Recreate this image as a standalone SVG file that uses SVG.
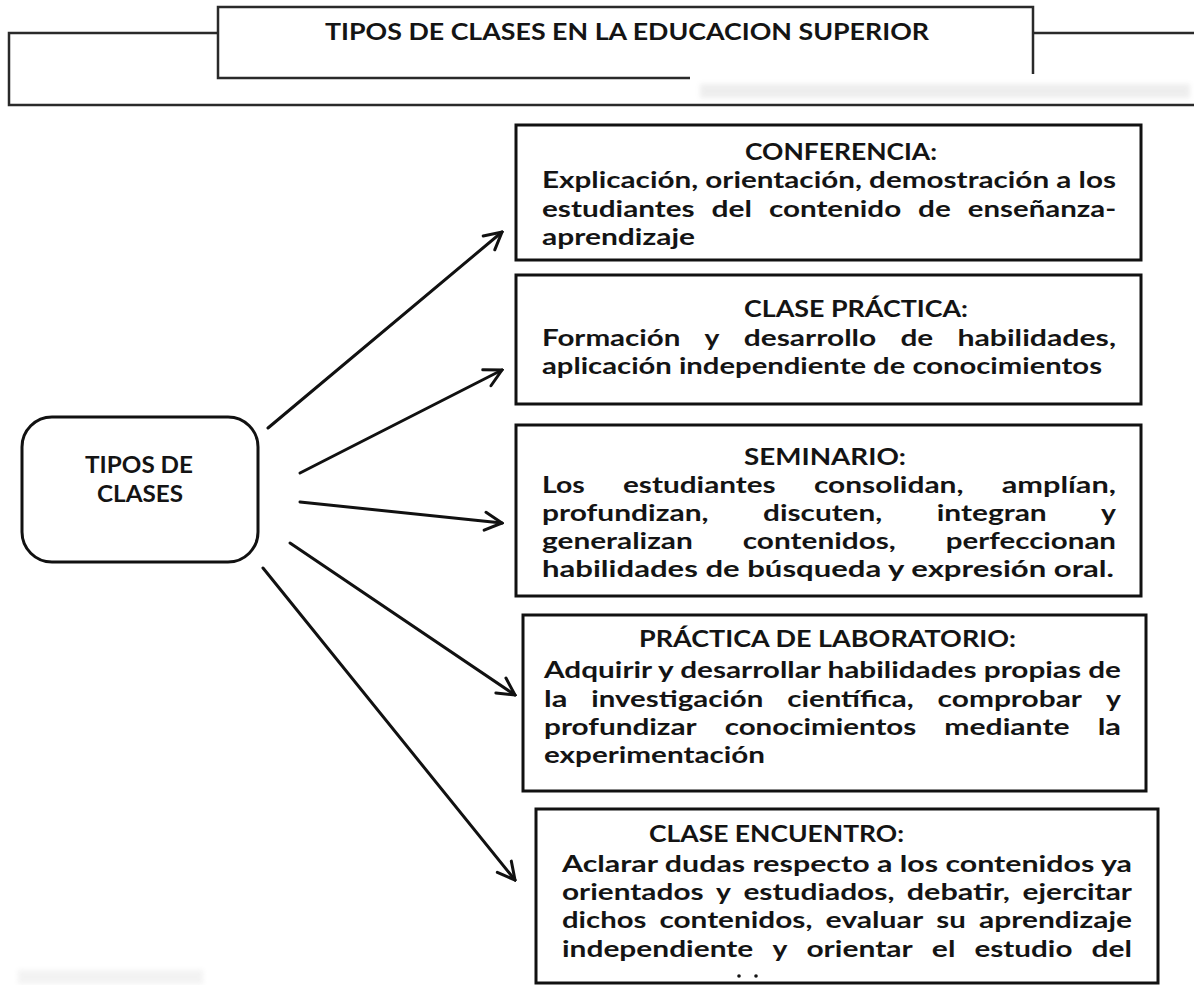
<svg xmlns="http://www.w3.org/2000/svg" width="1194" height="985" viewBox="0 0 1194 985">
<style>
.frame{fill:none;stroke:#2a2a2a;stroke-width:2.5}
.box{fill:#fff;stroke:#111;stroke-width:3}
.conn{fill:none;stroke:#111;stroke-width:3;stroke-linecap:round}
.t{font-family:Lato,'Open Sans','Liberation Sans',sans-serif;font-weight:700;font-size:22.5px;fill:#141414}
.h{font-family:Lato,'Open Sans','Liberation Sans',sans-serif;font-weight:700;font-size:23px;fill:#141414}
.big{font-family:Lato,'Open Sans','Liberation Sans',sans-serif;font-weight:700;font-size:23.5px;fill:#141414}
</style>
<defs>
<marker id="arr" markerUnits="userSpaceOnUse" viewBox="-20 -12 22 24" refX="0" refY="0" markerWidth="22" markerHeight="24" orient="auto">
<path d="M-17,-9 L0,0 L-17,9" fill="none" stroke="#111" stroke-width="3" stroke-linecap="round" stroke-linejoin="miter"/>
</marker>
<filter id="blur" x="-10%" y="-50%" width="120%" height="200%"><feGaussianBlur stdDeviation="2.5"/></filter>
</defs>
<rect width="1194" height="985" fill="#fff"/>

<g id="header">
<path class="frame" d="M218,33 H9 V105 H1194"/>
<path class="frame" d="M1033,33 H1194"/>
<path class="frame" d="M690,78 H218 V7 H1033 V74"/>
<text class="big" x="325" y="40" textLength="604" lengthAdjust="spacingAndGlyphs">TIPOS DE CLASES EN LA EDUCACION SUPERIOR</text>
<g filter="url(#blur)" opacity="0.14" fill="#888">
<rect x="700" y="84" width="490" height="14"/>
</g>
</g>

<g filter="url(#blur)" opacity="0.1" fill="#888"><rect x="18" y="970" width="185" height="14"/></g>

<g id="tipos">
<rect class="box" x="22" y="417" width="236" height="145" rx="30" ry="30"/>
<text class="big" x="85" y="473" textLength="108" lengthAdjust="spacingAndGlyphs">TIPOS DE</text>
<text class="big" x="97" y="502" textLength="86" lengthAdjust="spacingAndGlyphs">CLASES</text>
</g>

<g id="connectors">
<line class="conn" x1="268" y1="428" x2="502" y2="232" marker-end="url(#arr)"/>
<line class="conn" x1="300" y1="473" x2="502" y2="370" marker-end="url(#arr)"/>
<line class="conn" x1="300" y1="502" x2="502" y2="523" marker-end="url(#arr)"/>
<line class="conn" x1="290" y1="543" x2="515" y2="695" marker-end="url(#arr)"/>
<line class="conn" x1="263" y1="568" x2="515" y2="880" marker-end="url(#arr)"/>
</g>

<g id="conferencia">
<rect class="box" x="516" y="125" width="625" height="135"/>
<text class="h" x="745" y="160" textLength="192" lengthAdjust="spacingAndGlyphs">CONFERENCIA:</text>
<text class="t" x="542" y="188" textLength="574" lengthAdjust="spacingAndGlyphs">Explicación, orientación, demostración a los</text>
<text class="t" x="542" y="217" textLength="152.7" lengthAdjust="spacingAndGlyphs">estudiantes</text>
<text class="t" x="711.6" y="217" textLength="40.5" lengthAdjust="spacingAndGlyphs">del</text>
<text class="t" x="768.9" y="217" textLength="132.3" lengthAdjust="spacingAndGlyphs">contenido</text>
<text class="t" x="918.1" y="217" textLength="32.8" lengthAdjust="spacingAndGlyphs">de</text>
<text class="t" x="967.8" y="217" textLength="148.3" lengthAdjust="spacingAndGlyphs">enseñanza-</text>
<text class="t" x="542" y="245" textLength="153" lengthAdjust="spacingAndGlyphs">aprendizaje</text>
</g>

<g id="clase-practica">
<rect class="box" x="516" y="275" width="625" height="129"/>
<text class="h" x="744" y="317" textLength="224" lengthAdjust="spacingAndGlyphs">CLASE PRÁCTICA:</text>
<text class="t" x="542" y="346" textLength="138.5" lengthAdjust="spacingAndGlyphs">Formación</text>
<text class="t" x="704.6" y="346" textLength="14.9" lengthAdjust="spacingAndGlyphs">y</text>
<text class="t" x="743.7" y="346" textLength="132.6" lengthAdjust="spacingAndGlyphs">desarrollo</text>
<text class="t" x="900.4" y="346" textLength="32.8" lengthAdjust="spacingAndGlyphs">de</text>
<text class="t" x="957.4" y="346" textLength="158.6" lengthAdjust="spacingAndGlyphs">habilidades,</text>
<text class="t" x="542" y="374" textLength="560" lengthAdjust="spacingAndGlyphs">aplicación independiente de conocimientos</text>
</g>

<g id="seminario">
<rect class="box" x="516" y="425" width="625" height="171"/>
<text class="h" x="744" y="465" textLength="162" lengthAdjust="spacingAndGlyphs">SEMINARIO:</text>
<text class="t" x="542" y="493" textLength="42.8" lengthAdjust="spacingAndGlyphs">Los</text>
<text class="t" x="623" y="493" textLength="152.7" lengthAdjust="spacingAndGlyphs">estudiantes</text>
<text class="t" x="813.9" y="493" textLength="149.6" lengthAdjust="spacingAndGlyphs">consolidan,</text>
<text class="t" x="1001.7" y="493" textLength="114.2" lengthAdjust="spacingAndGlyphs">amplían,</text>
<text class="t" x="542" y="521" textLength="166.6" lengthAdjust="spacingAndGlyphs">profundizan,</text>
<text class="t" x="763.1" y="521" textLength="119.1" lengthAdjust="spacingAndGlyphs">discuten,</text>
<text class="t" x="936.7" y="521" textLength="110" lengthAdjust="spacingAndGlyphs">integran</text>
<text class="t" x="1101.1" y="521" textLength="14.9" lengthAdjust="spacingAndGlyphs">y</text>
<text class="t" x="542" y="549" textLength="150.8" lengthAdjust="spacingAndGlyphs">generalizan</text>
<text class="t" x="742.8" y="549" textLength="153" lengthAdjust="spacingAndGlyphs">contenidos,</text>
<text class="t" x="945.8" y="549" textLength="170.2" lengthAdjust="spacingAndGlyphs">perfeccionan</text>
<text class="t" x="542" y="577" textLength="572" lengthAdjust="spacingAndGlyphs">habilidades de búsqueda y expresión oral.</text>
</g>

<g id="practica-laboratorio">
<rect class="box" x="523" y="615" width="623" height="176"/>
<text class="h" x="639" y="647" textLength="377" lengthAdjust="spacingAndGlyphs">PRÁCTICA DE LABORATORIO:</text>
<text class="t" x="544" y="678" textLength="577" lengthAdjust="spacingAndGlyphs">Adquirir y desarrollar habilidades propias de</text>
<text class="t" x="544" y="707" textLength="23.3" lengthAdjust="spacingAndGlyphs">la</text>
<text class="t" x="591.3" y="707" textLength="172" lengthAdjust="spacingAndGlyphs">investigación</text>
<text class="t" x="787.3" y="707" textLength="126.3" lengthAdjust="spacingAndGlyphs">científica,</text>
<text class="t" x="937.6" y="707" textLength="144.4" lengthAdjust="spacingAndGlyphs">comprobar</text>
<text class="t" x="1106.1" y="707" textLength="14.9" lengthAdjust="spacingAndGlyphs">y</text>
<text class="t" x="544" y="735" textLength="152.7" lengthAdjust="spacingAndGlyphs">profundizar</text>
<text class="t" x="724.7" y="735" textLength="191.5" lengthAdjust="spacingAndGlyphs">conocimientos</text>
<text class="t" x="944.2" y="735" textLength="125.4" lengthAdjust="spacingAndGlyphs">mediante</text>
<text class="t" x="1097.7" y="735" textLength="23.3" lengthAdjust="spacingAndGlyphs">la</text>
<text class="t" x="544" y="763" textLength="221" lengthAdjust="spacingAndGlyphs">experimentación</text>
</g>

<g id="clase-encuentro">
<rect class="box" x="536" y="809" width="622" height="174"/>
<text class="h" x="649" y="842" textLength="255" lengthAdjust="spacingAndGlyphs">CLASE ENCUENTRO:</text>
<text class="t" x="562" y="872" textLength="570" lengthAdjust="spacingAndGlyphs">Aclarar dudas respecto a los contenidos ya</text>
<text class="t" x="562" y="900" textLength="141.6" lengthAdjust="spacingAndGlyphs">orientados</text>
<text class="t" x="716" y="900" textLength="14.9" lengthAdjust="spacingAndGlyphs">y</text>
<text class="t" x="743.4" y="900" textLength="151" lengthAdjust="spacingAndGlyphs">estudiados,</text>
<text class="t" x="906.8" y="900" textLength="103.2" lengthAdjust="spacingAndGlyphs">debatir,</text>
<text class="t" x="1022.5" y="900" textLength="109.5" lengthAdjust="spacingAndGlyphs">ejercitar</text>
<text class="t" x="562" y="928" textLength="84.3" lengthAdjust="spacingAndGlyphs">dichos</text>
<text class="t" x="659.4" y="928" textLength="153" lengthAdjust="spacingAndGlyphs">contenidos,</text>
<text class="t" x="825.5" y="928" textLength="97.7" lengthAdjust="spacingAndGlyphs">evaluar</text>
<text class="t" x="936.3" y="928" textLength="29.5" lengthAdjust="spacingAndGlyphs">su</text>
<text class="t" x="979" y="928" textLength="153" lengthAdjust="spacingAndGlyphs">aprendizaje</text>
<text class="t" x="562" y="957" textLength="191.3" lengthAdjust="spacingAndGlyphs">independiente</text>
<text class="t" x="772.4" y="957" textLength="14.9" lengthAdjust="spacingAndGlyphs">y</text>
<text class="t" x="806.4" y="957" textLength="106.3" lengthAdjust="spacingAndGlyphs">orientar</text>
<text class="t" x="931.8" y="957" textLength="23.6" lengthAdjust="spacingAndGlyphs">el</text>
<text class="t" x="974.5" y="957" textLength="97.9" lengthAdjust="spacingAndGlyphs">estudio</text>
<text class="t" x="1091.5" y="957" textLength="40.5" lengthAdjust="spacingAndGlyphs">del</text>
<circle cx="739" cy="976" r="1.8" fill="#141414"/>
<circle cx="756" cy="976" r="1.8" fill="#141414"/>
</g>
</svg>
